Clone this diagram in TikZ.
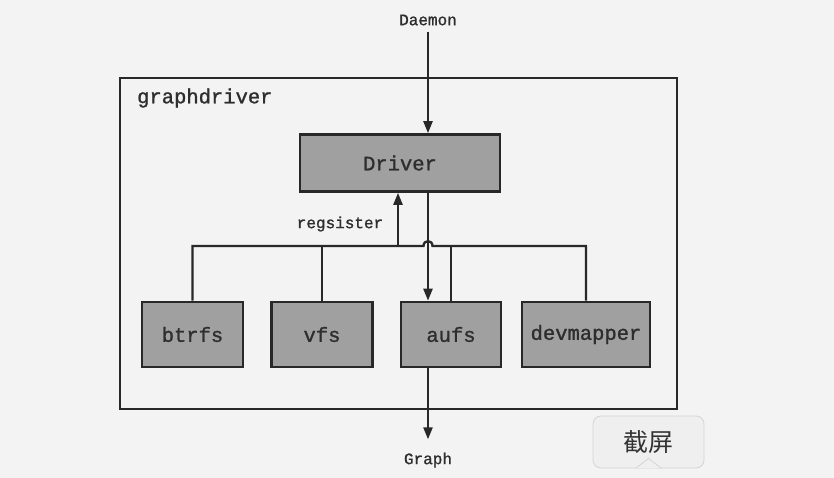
\documentclass[tikz,border=0pt]{standalone}
\usepackage{fontspec}
\setmonofont[FakeBold=1.2]{Liberation Mono}
\newfontfamily\cjk{Noto Sans CJK SC}
\usetikzlibrary{arrows.meta}
\definecolor{bg}{HTML}{F3F3F3}
\definecolor{linec}{HTML}{282828}
\definecolor{boxgray}{HTML}{A0A0A0}
\definecolor{textc}{HTML}{2E2E2E}
\definecolor{tipfill}{HTML}{EFEFEF}
\definecolor{tipline}{HTML}{D4D4D4}
\begin{document}
\begin{tikzpicture}[x=1pt,y=-1pt,
  box/.style={draw=linec, line width=2.6pt, fill=boxgray, inner sep=0pt, text=textc,
    font=\fontsize{20.5}{24}\selectfont\ttfamily},
  frame/.style={draw=linec, line width=2.3pt, inner sep=0pt},
  wire/.style={draw=linec, line width=2.3pt},
  arr/.style={wire, -{Triangle[length=12pt,width=9pt]}},
  lbl/.style={inner sep=0pt, text=textc, font=\fontsize{16}{18}\selectfont\ttfamily},
  tip/.style={draw=tipline, line width=0.8pt, fill=tipfill, rounded corners=8pt,
    minimum width=111pt, minimum height=52pt, inner sep=0pt, text=black!80,
    font=\fontsize{25}{28}\selectfont\cjk}]
\useasboundingbox (0,0) rectangle (834,478);
\fill[bg] (0,0) rectangle (834,478);

% outer frame
\node[frame, minimum width=557pt, minimum height=331pt] (gd) at (398.5,243.5) {};
\node[anchor=west, inner sep=0pt, text=textc, font=\fontsize{20.5}{24}\selectfont\ttfamily] (gdl) at (137,98) {graphdriver};

% labels outside
\node[lbl] (daemon) at (428,20) {Daemon};
\node[lbl] (graph) at (428,460) {Graph};

% boxes
\node[box, minimum width=200pt, minimum height=57pt] (driver) at (400,163) {Driver};
\node[box, minimum width=101pt, minimum height=65pt] (btrfs) at (192.5,334.5) {btrfs};
\node[box, minimum width=101pt, minimum height=65pt] (vfs) at (322,334.5) {vfs};
\node[box, minimum width=100pt, minimum height=65pt] (aufs) at (451,334.5) {aufs};
\node[box, minimum width=128pt, minimum height=65pt] (devmapper) at (586,334.5) {devmapper};

\coordinate (busL) at (192.5,246);
\coordinate (reg) at (398,246);
\node[lbl] (reglbl) at (340,224) {regsister};

% bus with hop
\draw[wire] (btrfs.north) |- (423.5,246) .. controls (423.5,239.5) and (432.5,239.5) .. (432.5,246) -| (devmapper.north);
\draw[wire] (vfs.north) -- (vfs.north |- busL);
\draw[wire] (aufs.north) -- (aufs.north |- busL);

% arrows
\draw[arr] (daemon.south) ++(0,6) -- (daemon.south |- driver.north);
\draw[arr] (reg) -- (reg |- driver.south);
\draw[arr] (driver.south -| daemon.south) -- (aufs.north -| daemon.south);
\draw[arr, shorten >=13pt] (aufs.south -| daemon.south) -- (graph.north);

% screenshot tooltip
\node[tip] (shot) at (648.5,442) {截屏};
\fill[tipfill] ([xshift=-13pt,yshift=0.6pt]shot.south) -- ([yshift=10pt]shot.south) -- ([xshift=13pt,yshift=0.6pt]shot.south) -- cycle;
\draw[tipline, line width=0.8pt] ([xshift=-13pt]shot.south) -- ([yshift=10pt]shot.south) -- ([xshift=13pt]shot.south);
\end{tikzpicture}
\end{document}
